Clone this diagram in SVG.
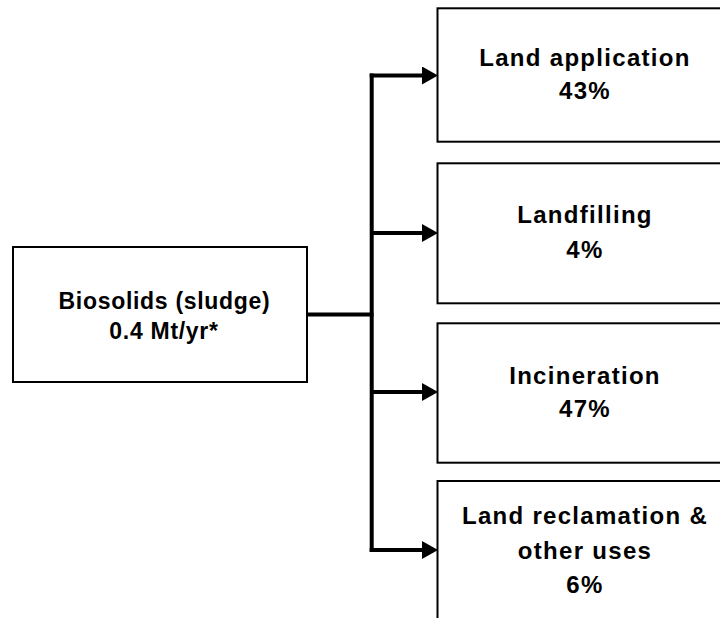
<svg xmlns="http://www.w3.org/2000/svg" width="720" height="618" viewBox="0 0 720 618">
  <style>
    .box { fill: #ffffff; stroke: #000000; stroke-width: 2; }
    .conn { fill: none; stroke: #000000; stroke-width: 4; stroke-linecap: butt; stroke-linejoin: miter; }
    .lbl { font-family: "Liberation Sans", Arial, sans-serif; font-weight: bold; font-size: 24px; fill: #000000; text-anchor: middle; letter-spacing: 1.3px; }
    .lblL { font-family: "Liberation Sans", Arial, sans-serif; font-weight: bold; font-size: 23px; fill: #000000; text-anchor: middle; letter-spacing: 0.7px; }
  </style>
  <defs>
    <marker id="arrow" markerUnits="userSpaceOnUse" markerWidth="16" markerHeight="18" refX="0" refY="9" orient="auto">
      <path d="M0,0 L16,9 L0,18 Z" fill="#000000"/>
    </marker>
  </defs>
  <rect width="720" height="618" fill="#ffffff"/>

  <g id="connectors">
    <line class="conn" x1="306" y1="314.5" x2="373.5" y2="314.5"/>
    <line class="conn" x1="371.7" y1="73.5" x2="371.7" y2="552"/>
    <line class="conn" x1="369.7" y1="75.5" x2="422" y2="75.5" marker-end="url(#arrow)"/>
    <line class="conn" x1="371.7" y1="233" x2="422" y2="233" marker-end="url(#arrow)"/>
    <line class="conn" x1="371.7" y1="392" x2="422" y2="392" marker-end="url(#arrow)"/>
    <line class="conn" x1="369.7" y1="550" x2="422" y2="550" marker-end="url(#arrow)"/>
  </g>

  <g id="biosolids">
    <rect class="box" x="13" y="247" width="294" height="135"/>
    <text class="lblL" x="164.5" y="309">Biosolids (sludge)</text>
    <text class="lblL" x="164" y="339">0.4 Mt/yr*</text>
  </g>

  <g id="land-application">
    <rect class="box" x="437.5" y="8.3" width="300" height="133.4"/>
    <text class="lbl" x="585" y="66">Land application</text>
    <text class="lbl" x="585" y="99">43%</text>
  </g>

  <g id="landfilling">
    <rect class="box" x="437.5" y="163.3" width="300" height="140"/>
    <text class="lbl" x="585" y="223">Landfilling</text>
    <text class="lbl" x="585" y="258">4%</text>
  </g>

  <g id="incineration">
    <rect class="box" x="437.5" y="323.3" width="300" height="139.4"/>
    <text class="lbl" x="585" y="384">Incineration</text>
    <text class="lbl" x="585" y="417">47%</text>
  </g>

  <g id="land-reclamation">
    <rect class="box" x="437.5" y="481" width="300" height="160"/>
    <text class="lbl" x="585" y="524">Land reclamation &amp;</text>
    <text class="lbl" x="585" y="559">other uses</text>
    <text class="lbl" x="585" y="593">6%</text>
  </g>
</svg>
